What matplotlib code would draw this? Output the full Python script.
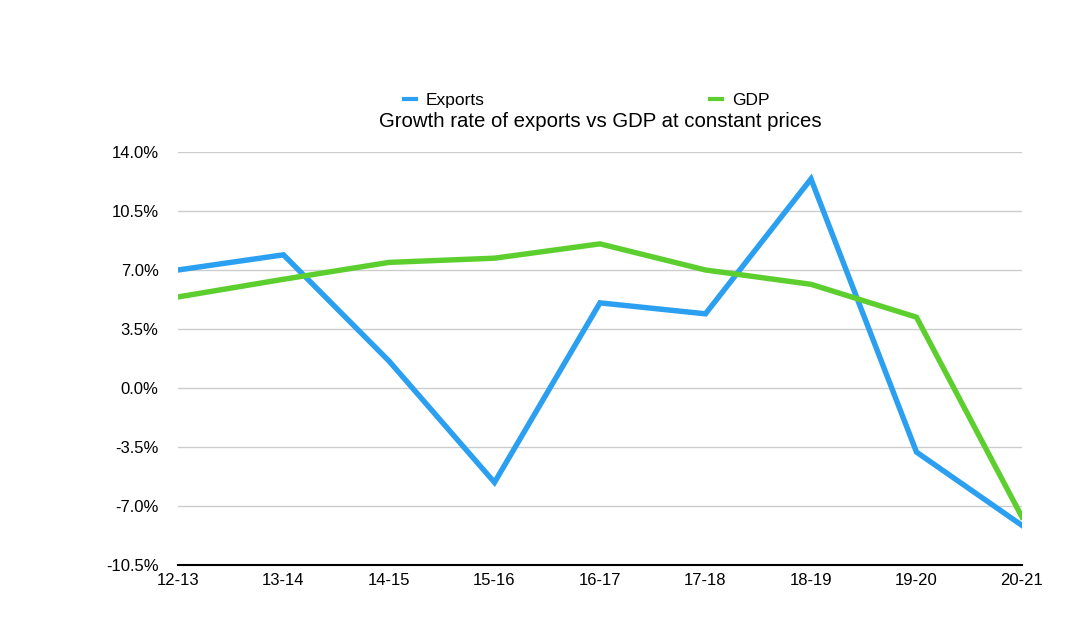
import matplotlib
matplotlib.use('Agg')
import matplotlib.pyplot as plt
from matplotlib.ticker import FuncFormatter

years = ['12-13', '13-14', '14-15', '15-16', '16-17', '17-18', '18-19', '19-20', '20-21']
exports = [7.0, 7.9, 1.6, -5.6, 5.05, 4.4, 12.4, -3.8, -8.15]
gdp = [5.4, 6.45, 7.45, 7.7, 8.55, 7.0, 6.15, 4.2, -7.65]
yticks = [-10.5, -7.0, -3.5, 0.0, 3.5, 7.0, 10.5, 14.0]

plt.rcParams['font.family'] = ['Liberation Sans', 'DejaVu Sans']

fig = plt.figure(figsize=(10.88, 6.34), dpi=100)
ax = fig.add_axes([0.1636, 0.1088, 0.7757, 0.6515])

x = list(range(len(years)))
ax.plot(x, exports, color='#2b9ff0', lw=3.9, label='Exports', solid_joinstyle='miter')
ax.plot(x, gdp, color='#5ccf2f', lw=3.9, label='GDP', solid_joinstyle='miter')

ax.set_xlim(0, len(years) - 1)
ax.set_ylim(-10.5, 14.0)
ax.set_xticks(x)
ax.set_xticklabels(years)
ax.set_yticks(yticks)
ax.yaxis.set_major_formatter(FuncFormatter(lambda v, p: '%.1f%%' % v))
ax.tick_params(axis='y', length=0, pad=14, labelsize=12)
ax.tick_params(axis='x', length=0, pad=6, labelsize=12)

ax.grid(axis='y', color='#cccccc', lw=1)
ax.set_axisbelow(True)
for s in ['top', 'right', 'left']:
    ax.spines[s].set_visible(False)
ax.spines['bottom'].set_color('black')
ax.spines['bottom'].set_linewidth(1.5)
ax.spines['bottom'].set_zorder(1)

ax.set_title('Growth rate of exports vs GDP at constant prices', fontsize=14.7, pad=18)
leg = ax.legend(loc='lower center', bbox_to_anchor=(0.484, 1.068), ncol=2, frameon=False,
                fontsize=12.5, handlelength=0.7, columnspacing=13.0, handletextpad=0.55)
for h in leg.get_lines():
    h.set_linewidth(3)

fig.savefig('out.png', dpi=100)
